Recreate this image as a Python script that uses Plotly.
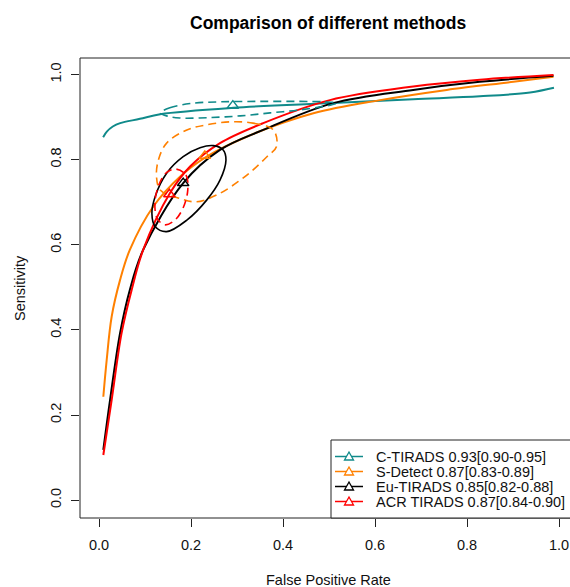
import plotly.graph_objects as go

# ---------------- data ----------------
methods = ["C-TIRADS", "S-Detect", "Eu-TIRADS", "ACR TIRADS"]
legend_labels = ["C-TIRADS 0.93[0.90-0.95]", "S-Detect 0.87[0.83-0.89]",
                 "Eu-TIRADS 0.85[0.82-0.88]", "ACR TIRADS 0.87[0.84-0.90]"]
colors = ["#108A8A", "#FF8000", "#000000", "#FF0000"]

# SROC curves
c_fpr = [0.009, 0.017, 0.030, 0.046, 0.089, 0.133, 0.292, 0.509, 0.683, 0.828, 0.937, 0.989]
c_sens = [0.853, 0.866, 0.878, 0.886, 0.896, 0.907, 0.922, 0.933, 0.942, 0.949, 0.958, 0.969]

s_fpr = [0.0094, 0.0167, 0.0275, 0.0457, 0.067, 0.118, 0.176, 0.234, 0.321, 0.466, 0.611, 0.756, 0.901, 0.988]
s_sens = [0.243, 0.329, 0.431, 0.517, 0.588, 0.690, 0.760, 0.807, 0.854, 0.909, 0.940, 0.964, 0.983, 0.995]

e_fpr = [0.0094, 0.024, 0.0457, 0.067, 0.096, 0.183, 0.263, 0.357, 0.509, 0.683, 0.828, 0.988]
e_sens = [0.118, 0.235, 0.392, 0.494, 0.588, 0.745, 0.823, 0.870, 0.933, 0.964, 0.983, 0.997]

a_fpr = [0.0094, 0.0275, 0.049, 0.071, 0.096, 0.154, 0.198, 0.263, 0.357, 0.502, 0.683, 0.828, 0.988]
a_sens = [0.106, 0.235, 0.392, 0.494, 0.588, 0.721, 0.784, 0.839, 0.886, 0.940, 0.972, 0.988, 0.999]

# confidence regions
c_ell_fpr = [0.133, 0.154, 0.198, 0.263, 0.350, 0.437, 0.491, 0.517, 0.502, 0.437, 0.372, 0.307, 0.241, 0.176, 0.150, 0.133]
c_ell_sens = [0.910, 0.922, 0.932, 0.936, 0.937, 0.937, 0.936, 0.933, 0.928, 0.917, 0.910, 0.903, 0.899, 0.898, 0.902, 0.910]

s_ell_fpr = [0.285, 0.335, 0.379, 0.386, 0.365, 0.335, 0.307, 0.263, 0.212, 0.176, 0.133, 0.125, 0.129, 0.147, 0.191, 0.234, 0.285]
s_ell_sens = [0.889, 0.886, 0.870, 0.831, 0.807, 0.776, 0.752, 0.721, 0.701, 0.709, 0.729, 0.760, 0.799, 0.839, 0.870, 0.882, 0.889]

e_ell_fpr = [0.2485, 0.270, 0.276, 0.263, 0.234, 0.191, 0.147, 0.122, 0.115, 0.122, 0.147, 0.183, 0.2196, 0.2485]
e_ell_sens = [0.833, 0.823, 0.799, 0.752, 0.705, 0.658, 0.631, 0.643, 0.674, 0.713, 0.768, 0.807, 0.828, 0.833]

a_ell_fpr = [0.167, 0.189, 0.193, 0.183, 0.165, 0.143, 0.126, 0.122, 0.133, 0.148, 0.167]
a_ell_sens = [0.778, 0.764, 0.729, 0.687, 0.658, 0.647, 0.663, 0.705, 0.748, 0.771, 0.778]

# summary points
sum_fpr = [0.291, 0.230, 0.183, 0.153]
sum_sens = [0.927, 0.809, 0.745, 0.719]

# axis ticks
tick_vals = [0.0, 0.2, 0.4, 0.6, 0.8, 1.0]
tick_text = ["0.0", "0.2", "0.4", "0.6", "0.8", "1.0"]

curves = [(c_fpr, c_sens), (s_fpr, s_sens), (e_fpr, e_sens), (a_fpr, a_sens)]
ellipses = [(c_ell_fpr, c_ell_sens, "8px,5px"), (s_ell_fpr, s_ell_sens, "8px,5px"),
            (e_ell_fpr, e_ell_sens, "solid"), (a_ell_fpr, a_ell_sens, "8px,5px")]

FONT = "Liberation Sans, Arial, sans-serif"
FS = 14.5
W, H = 570, 587
ML, MT, MB = 80, 58, 69
PW, PH = W - ML, H - MT - MB  # plot area in px


def px_x(px):
    return (px - ML) / PW


def px_y(py):
    return (H - MB - py) / PH


fig = go.Figure()

for i in range(4):
    fx, fy = curves[i]
    fig.add_trace(go.Scatter(x=fx, y=fy, mode="lines", line=dict(color=colors[i], width=2, shape="spline"),
                             showlegend=False, hoverinfo="skip"))
for i in range(4):
    ex, ey, dash = ellipses[i]
    fig.add_trace(go.Scatter(x=ex, y=ey, mode="lines",
                             line=dict(color=colors[i], width=1.6, dash=dash, shape="spline", smoothing=1.0),
                             showlegend=False, hoverinfo="skip"))
for i in range(4):
    fig.add_trace(go.Scatter(x=[sum_fpr[i]], y=[sum_sens[i]], mode="markers",
                             marker=dict(symbol="triangle-up-open", size=10, color=colors[i], line=dict(width=1.5)),
                             showlegend=False, hoverinfo="skip"))

# plot box (right edge falls outside the picture, as in the reference)
shapes = [dict(type="rect", xref="paper", yref="paper", x0=0, x1=1.05, y0=0, y1=1,
               line=dict(color="#222", width=1), layer="above")]
annotations = []

# manual legend (R-style)
shapes.append(dict(type="rect", xref="paper", yref="paper", x0=px_x(331), x1=1.05,
                   y0=0, y1=px_y(440), line=dict(color="#222", width=1), fillcolor="white", layer="above"))
for i in range(4):
    yy = px_y(456.5 + 15 * i)
    shapes.append(dict(type="line", xref="paper", yref="paper", x0=px_x(335), x1=px_x(363), y0=yy, y1=yy,
                       line=dict(color=colors[i], width=1.5), layer="above"))
    shapes.append(dict(type="path", xref="paper", yref="paper", xsizemode="pixel", ysizemode="pixel",
                       xanchor=px_x(349), yanchor=yy, path="M -4.5,-3.5 L 4.5,-3.5 L 0,4.5 Z",
                       line=dict(color=colors[i], width=1.3), fillcolor="white", layer="above"))
    annotations.append(dict(text=legend_labels[i], xref="paper", yref="paper", x=px_x(374), y=yy,
                            xanchor="left", yanchor="middle", showarrow=False,
                            font=dict(family=FONT, size=FS, color="#111")))

annotations += [
    dict(text="<b>Comparison of different methods</b>", xref="paper", yref="paper",
         x=px_x(327.5), y=px_y(23), xanchor="center", yanchor="middle",
         showarrow=False, font=dict(family=FONT, size=17.5, color="#000")),
    dict(text="False Positive Rate", xref="paper", yref="paper",
         x=px_x(328.5), y=px_y(580), xanchor="center", yanchor="middle",
         showarrow=False, font=dict(family=FONT, size=FS, color="#111")),
    dict(text="Sensitivity", xref="paper", yref="paper", textangle=-90,
         x=px_x(20), y=0.5, xanchor="center", yanchor="middle",
         showarrow=False, font=dict(family=FONT, size=FS, color="#111")),
]

axis_common = dict(showgrid=False, zeroline=False, showline=False,
                   ticks="outside", ticklen=8, tickcolor="#222", tickwidth=1,
                   tickvals=tick_vals, ticktext=tick_text,
                   tickfont=dict(family=FONT, size=FS, color="#111"))

fig.update_layout(
    width=W, height=H,
    margin=dict(l=ML, r=0, t=MT, b=MB),
    plot_bgcolor="white", paper_bgcolor="white",
    xaxis=dict(range=[-0.0413, 1.0239], ticklabelstandoff=6, **axis_common),
    yaxis=dict(range=[-0.042, 1.039], tickangle=-90, ticklabelstandoff=4, **axis_common),
    showlegend=False,
    shapes=shapes,
    annotations=annotations,
)

fig.write_html("out.html", config={"displayModeBar": False},
               post_script="document.body.style.margin='0';document.body.style.overflow='hidden';")
